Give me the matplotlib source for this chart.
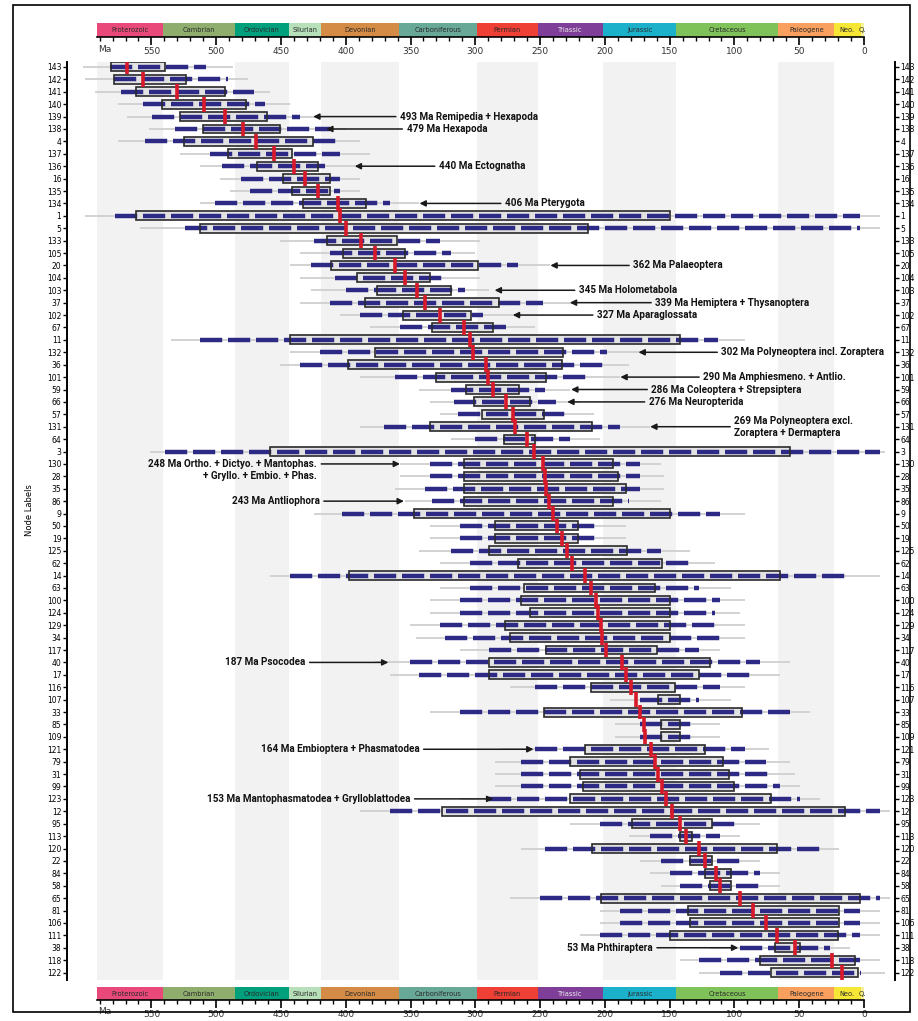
import numpy as np
import matplotlib.pyplot as plt
import matplotlib.font_manager as fm
from matplotlib.patches import Rectangle
from matplotlib.transforms import blended_transform_factory

# node labels, top to bottom
nodes = [143, 142, 141, 140, 139, 138, 4, 137, 136, 16, 135, 134, 1, 5, 133, 105, 20, 104, 103, 37,
         102, 67, 11, 132, 36, 101, 59, 66, 57, 131, 64, 3, 130, 28, 35, 86, 9, 50, 19, 125,
         62, 14, 63, 100, 124, 129, 34, 117, 40, 17, 116, 107, 33, 85, 109, 121, 79, 31, 99, 123,
         12, 95, 113, 120, 22, 84, 58, 65, 81, 106, 111, 38, 118, 122]

# ages in Ma
median = [569, 556, 530, 509, 493, 479, 469, 455, 440, 431, 421, 406, 404, 400, 388, 377, 362, 354, 345, 339,
          327, 309, 304, 302, 292, 290, 286, 276, 271, 269, 260, 255, 248, 246, 245, 243, 240, 237, 233, 229,
          225, 215, 211, 207, 205, 203, 202, 199, 187, 184, 180, 176, 173, 170, 169, 164, 161, 159, 156, 153,
          148, 142, 137, 127, 123, 114, 111, 96, 86, 76, 67, 53, 25, 17]
box_old = [581, 579, 562, 542, 528, 510, 525, 491, 468, 448, 441, 433, 562, 512, 414, 402, 411, 391, 376, 385,
           356, 333, 443, 377, 398, 330, 307, 301, 295, 335, 278, 458, 309, 309, 309, 309, 347, 285, 285, 289,
           267, 397, 262, 265, 258, 277, 273, 245, 289, 289, 211, 159, 247, 157, 157, 215, 227, 219, 217, 227,
           326, 179, 142, 210, 134, 123, 119, 203, 136, 134, 150, 69, 80, 72]
box_young = [539, 523, 493, 477, 461, 451, 425, 441, 421, 412, 412, 384, 150, 213, 360, 354, 298, 335, 319, 282,
             303, 286, 142, 232, 233, 245, 266, 258, 247, 210, 254, 57, 194, 190, 184, 194, 150, 221, 221, 183,
             156, 65, 161, 150, 150, 150, 150, 160, 119, 127, 146, 142, 94, 142, 142, 123, 109, 104, 100, 72,
             15, 117, 133, 67, 117, 103, 103, 3, 19, 19, 20, 49, 7, 5]
blue_old = [582, 579, 573, 556, 549, 532, 555, 505, 495, 481, 474, 501, 578, 524, 424, 412, 427, 408, 400, 412,
            389, 358, 512, 420, 435, 362, 319, 316, 313, 370, 300, 539, 335, 335, 339, 333, 403, 312, 312, 319,
            304, 443, 304, 312, 312, 327, 323, 289, 350, 343, 254, 173, 312, 173, 173, 254, 265, 265, 265, 289,
            366, 204, 165, 246, 157, 150, 142, 250, 188, 188, 204, 96, 127, 111]
blue_young = [508, 491, 471, 462, 435, 412, 404, 404, 416, 404, 404, 366, 3, 3, 327, 319, 267, 323, 308, 248,
              294, 276, 113, 198, 201, 211, 246, 238, 228, 188, 227, -12, 173, 173, 173, 181, 111, 204, 204, 157,
              134, 11, 127, 111, 115, 111, 111, 127, 80, 88, 111, 127, 57, 130, 130, 92, 76, 73, 65, 49,
              -12, 96, 111, 34, 96, 80, 80, -12, 3, 3, 3, 26, 3, 2]
gray_old = [603, 601, 593, 576, 569, 552, 576, 528, 512, 497, 489, 512, 601, 559, 451, 435, 443, 435, 427, 435,
            404, 381, 535, 443, 451, 389, 343, 335, 327, 389, 319, 551, 358, 358, 362, 354, 424, 335, 335, 343,
            327, 458, 327, 335, 335, 350, 346, 312, 377, 366, 273, 196, 335, 192, 192, 281, 285, 285, 285, 312,
            389, 227, 181, 265, 173, 165, 157, 273, 204, 204, 219, 119, 142, 127]
gray_young = [487, 475, 458, 443, 420, 400, 389, 381, 393, 389, 389, 343, -12, -12, 296, 300, 242, 296, 289, 223,
              265, 254, 92, 173, 181, 188, 227, 219, 208, 165, 204, -16, 157, 154, 154, 157, 92, 184, 184, 134,
              115, -12, 103, 92, 96, 92, 92, 111, 57, 65, 92, 103, 42, 111, 111, 73, 57, 53, 49, 34,
              -20, 80, 96, 19, 80, 65, 65, -20, -12, -12, -12, 11, -12, -16]

periods = ["Proterozoic", "Cambrian", "Ordovician", "Silurian", "Devonian", "Carboniferous", "Permian",
           "Triassic", "Jurassic", "Cretaceous", "Paleogene", "Neo.", "Q."]
period_start = [592, 541, 485.4, 443.8, 419.2, 358.9, 298.9, 251.9, 201.3, 145, 66, 23, 2.58]
period_end = [541, 485.4, 443.8, 419.2, 358.9, 298.9, 251.9, 201.3, 145, 66, 23, 2.58, 0]
period_colors = ["#E8497A", "#8FAE6E", "#00A07D", "#B7E0BA", "#D48B45", "#67A897", "#EE4035",
                 "#7F3E98", "#1BB1CB", "#80C25A", "#F9A05E", "#F6E636", "#F4F29A"]
shaded = [True, False, True, False, True, False, True, False, True, False, True, False, False]

# annotations: text, row node, arrow tip (Ma), text anchor (Ma), side
ann_text = ["493 Ma Remipedia + Hexapoda", "479 Ma Hexapoda", "440 Ma Ectognatha", "406 Ma Pterygota",
            "362 Ma Palaeoptera", "345 Ma Holometabola", "339 Ma Hemiptera + Thysanoptera",
            "327 Ma Aparaglossata", "302 Ma Polyneoptera incl. Zoraptera", "290 Ma Amphiesmeno. + Antlio.",
            "286 Ma Coleoptera + Strepsiptera", "276 Ma Neuropterida",
            "269 Ma Polyneoptera excl.\nZoraptera + Dermaptera",
            "248 Ma Ortho. + Dictyo. + Mantophas.", "243 Ma Antliophora", "187 Ma Psocodea",
            "164 Ma Embioptera + Phasmatodea", "153 Ma Mantophasmatodea + Grylloblattodea",
            "53 Ma Phthiraptera"]
ann_node = [139, 138, 136, 134, 20, 103, 37, 102, 132, 101, 59, 66, 131, 130, 86, 40, 121, 123, 38]
ann_tip = [425, 415, 393, 343, 242, 285, 227, 271, 174, 188, 226, 229, 165, 358, 355, 367, 255, 286, 97]
ann_x = [358, 353, 328, 277, 178, 220, 161, 206, 110, 124, 164, 166, 100, 422, 420, 431, 343, 350, 163]
ann_side = ["r"] * 13 + ["l"] * 6

W, H = 918, 1021
fig = plt.figure(figsize=(W / 100, H / 100), dpi=100)


def add_ax(x0, y0, x1, y1):
    return fig.add_axes([x0 / W, 1 - y1 / H, (x1 - x0) / W, (y1 - y0) / H])


# bold callout font, sized so the long callout is about 163 px wide as in the reference
fp = fm.FontProperties(family=["Roboto", "Liberation Sans", "DejaVu Sans"], weight="bold", size=8)
probe = fig.text(0, 0, "302 Ma Polyneoptera incl. Zoraptera", fontproperties=fp)
fig.canvas.draw()
wpx = probe.get_window_extent().width
probe.remove()
fp.set_size(min(8.5, 8 * 163 / wpx))

# main panel
ax = add_ax(67, 62, 895, 980)
ax.set_xlim((864 - 67) / 1.296, (864 - 895) / 1.296)
n = len(nodes)
ax.set_ylim(73.6, -0.4)
for s, e, sh in zip(period_start, period_end, shaded):
    if sh:
        ax.axvspan(s, e, color="#F2F2F2", lw=0, zorder=0)

for i in range(n):
    ax.plot([gray_old[i], gray_young[i]], [i, i], color="#CFCFCF", lw=1.3, zorder=1, solid_capstyle="butt")
    ax.add_patch(Rectangle((box_young[i], i - 0.36), box_old[i] - box_young[i], 0.72,
                           facecolor="#E2E2E2", edgecolor="none", zorder=2))
    ax.plot([blue_old[i], blue_young[i]], [i, i], color="#2D2A86", lw=3.2, dashes=(5, 1.3), zorder=3,
            solid_capstyle="butt", dash_capstyle="butt")
    ax.add_patch(Rectangle((box_young[i], i - 0.36), box_old[i] - box_young[i], 0.72,
                           facecolor="none", edgecolor="#2A2A2A", lw=1.2, zorder=4))
    ax.plot([median[i], median[i]], [i - 0.6, i + 0.6], color="#D7192A", lw=2.6, zorder=5,
            solid_capstyle="butt")

ax.set_xticks([])
ax.set_yticks(range(n))
ax.set_yticklabels([str(v) for v in nodes])
ax.tick_params(axis="y", left=True, right=True, labelleft=True, labelright=True, direction="out",
               length=3, width=1, labelsize=5.5, pad=1)
for sp in ["top", "bottom"]:
    ax.spines[sp].set_visible(False)
for sp in ["left", "right"]:
    ax.spines[sp].set_linewidth(1.4)

fig.text(30 / W, 1 - 510 / H, "Node Labels", rotation=90, ha="center", va="center", fontsize=6)

# annotations
for t, nd, tip, tx, side in zip(ann_text, ann_node, ann_tip, ann_x, ann_side):
    r = nodes.index(nd)
    ax.annotate(t, xy=(tip, r), xytext=(tx, r), ha="left" if side == "r" else "right", va="center",
                arrowprops=dict(arrowstyle="-|>", color="#1A1A1A", lw=1.1, mutation_scale=9,
                                shrinkA=1, shrinkB=0),
                zorder=6, fontproperties=fp, color="#111111")
ax.text(422, nodes.index(130) + 1, "+ Gryllo. + Embio. + Phas.", ha="right", va="center", zorder=6,
        fontproperties=fp, color="#111111")


# geological timescale bars
def timescale(y0, y1):
    tax = add_ax(97, y0, 864, y1)
    tax.set_xlim(592, 0)
    tax.set_ylim(0, 1)
    for s, e, c, name in zip(period_start, period_end, period_colors, periods):
        tax.add_patch(Rectangle((e, 0), s - e, 1, facecolor=c, edgecolor="none"))
        tax.text((s + e) / 2, 0.5, name, ha="center", va="center", fontsize=4.8,
                 color="#E8E8E8" if name == "Triassic" else "#2A2A2A")
    tax.set_yticks([])
    for sp in ["top", "left", "right"]:
        tax.spines[sp].set_visible(False)
    tax.spines["bottom"].set_linewidth(1.2)
    tax.set_xticks(np.arange(0, 551, 50))
    tax.set_xticks(np.arange(0, 591, 10), minor=True)
    tax.set_xticklabels([str(v) for v in np.arange(0, 551, 50)])
    tax.tick_params(axis="x", which="major", direction="out", length=6, width=1.2, labelsize=6.5,
                    pad=1, labelcolor="#333333")
    tax.tick_params(axis="x", which="minor", direction="out", length=3, width=1)
    tr = blended_transform_factory(tax.transData, tax.transAxes)
    tax.text(591, -0.55, "Ma", transform=tr, ha="left", va="top", fontsize=6.5, color="#333333")


timescale(23, 37)
timescale(987, 1000)

# outer frame
fig.patches.append(Rectangle((13 / W, 1 - 1012 / H), (910 - 13) / W, (1012 - 5) / H,
                             transform=fig.transFigure, facecolor="none", edgecolor="black", lw=1.2))

fig.savefig("out.png", dpi=100)
